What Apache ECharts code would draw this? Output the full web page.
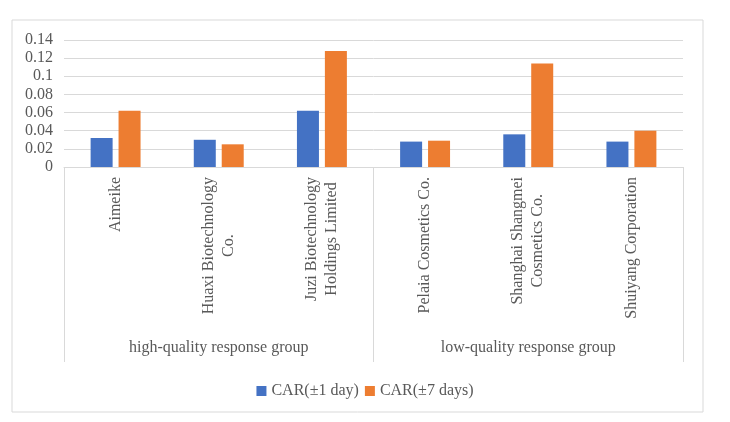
<!DOCTYPE html>
<html>
<head>
<meta charset="utf-8">
<script src="https://cdn.jsdelivr.net/npm/echarts@6/dist/echarts.min.js"></script>
<style>
  html, body { margin: 0; padding: 0; background: #fff; }
  #chart { width: 730px; height: 422px; }
</style>
</head>
<body>
<div id="chart"></div>
<script>
const companies = ['Aimeike', 'Huaxi Biotechnology\nCo.', 'Juzi Biotechnology\nHoldings Limited',
  'Pelaia Cosmetics Co.', 'Shanghai Shangmei\nCosmetics Co.', 'Shuiyang Corporation'];
const groups = ['high-quality response group', 'low-quality response group'];
const car1 = [0.032, 0.030, 0.062, 0.028, 0.036, 0.028];
const car7 = [0.062, 0.025, 0.128, 0.029, 0.114, 0.040];
const seriesNames = ['CAR(±1 day)', 'CAR(±7 days)'];

const font = '"Liberation Serif", "Times New Roman", serif';
const textColor = '#595959';
const lineColor = '#D9D9D9';

const chart = echarts.init(document.getElementById('chart'));

// 每行居中对齐（rich 文本）
function centerLines(v) {
  return v.split('\n').map(function (l) { return '{c|' + l + '}'; }).join('\n');
}

const option = {
  animation: false,
  graphic: [{
    type: 'rect',
    shape: { x: 12, y: 20, width: 691, height: 392 },
    style: { fill: 'none', stroke: lineColor, lineWidth: 1 },
    silent: true
  }],
  grid: {
    left: 64, right: 47, top: 40, bottom: 255,
    outerBoundsMode: 'none'
  },
  legend: {
    data: seriesNames,
    top: 378,
    left: 'center',
    icon: 'rect',
    itemWidth: 10,
    itemHeight: 10,
    itemGap: 6,
    textStyle: { fontFamily: font, fontSize: 16, color: textColor }
  },
  xAxis: [
    {
      type: 'category',
      data: companies,
      axisLine: { lineStyle: { color: lineColor } },
      axisTick: { show: false },
      axisLabel: {
        rotate: 90,
        margin: 10,
        interval: 0,
        fontFamily: font,
        fontSize: 16,
        color: textColor,
        lineHeight: 20,
        formatter: centerLines,
        rich: { c: { align: 'center', fontFamily: font, fontSize: 16, color: textColor, lineHeight: 20 } }
      }
    },
    {
      type: 'category',
      data: groups,
      position: 'bottom',
      axisLine: { show: false },
      axisTick: { show: true, length: 195, lineStyle: { color: lineColor } },
      axisLabel: {
        margin: 173,
        interval: 0,
        fontFamily: font,
        fontSize: 16,
        color: textColor
      }
    }
  ],
  yAxis: {
    type: 'value',
    min: 0,
    max: 0.14,
    interval: 0.02,
    axisLine: { show: false },
    axisTick: { show: false },
    splitLine: { lineStyle: { color: lineColor } },
    axisLabel: { margin: 11, fontFamily: font, fontSize: 16, color: textColor }
  },
  series: [
    {
      name: seriesNames[0],
      type: 'bar',
      data: car1,
      barWidth: 22,
      barGap: '27%',
      itemStyle: { color: '#4472C4' }
    },
    {
      name: seriesNames[1],
      type: 'bar',
      data: car7,
      barWidth: 22,
      barGap: '27%',
      itemStyle: { color: '#ED7D31' }
    }
  ]
};
chart.setOption(option);
</script>
</body>
</html>
